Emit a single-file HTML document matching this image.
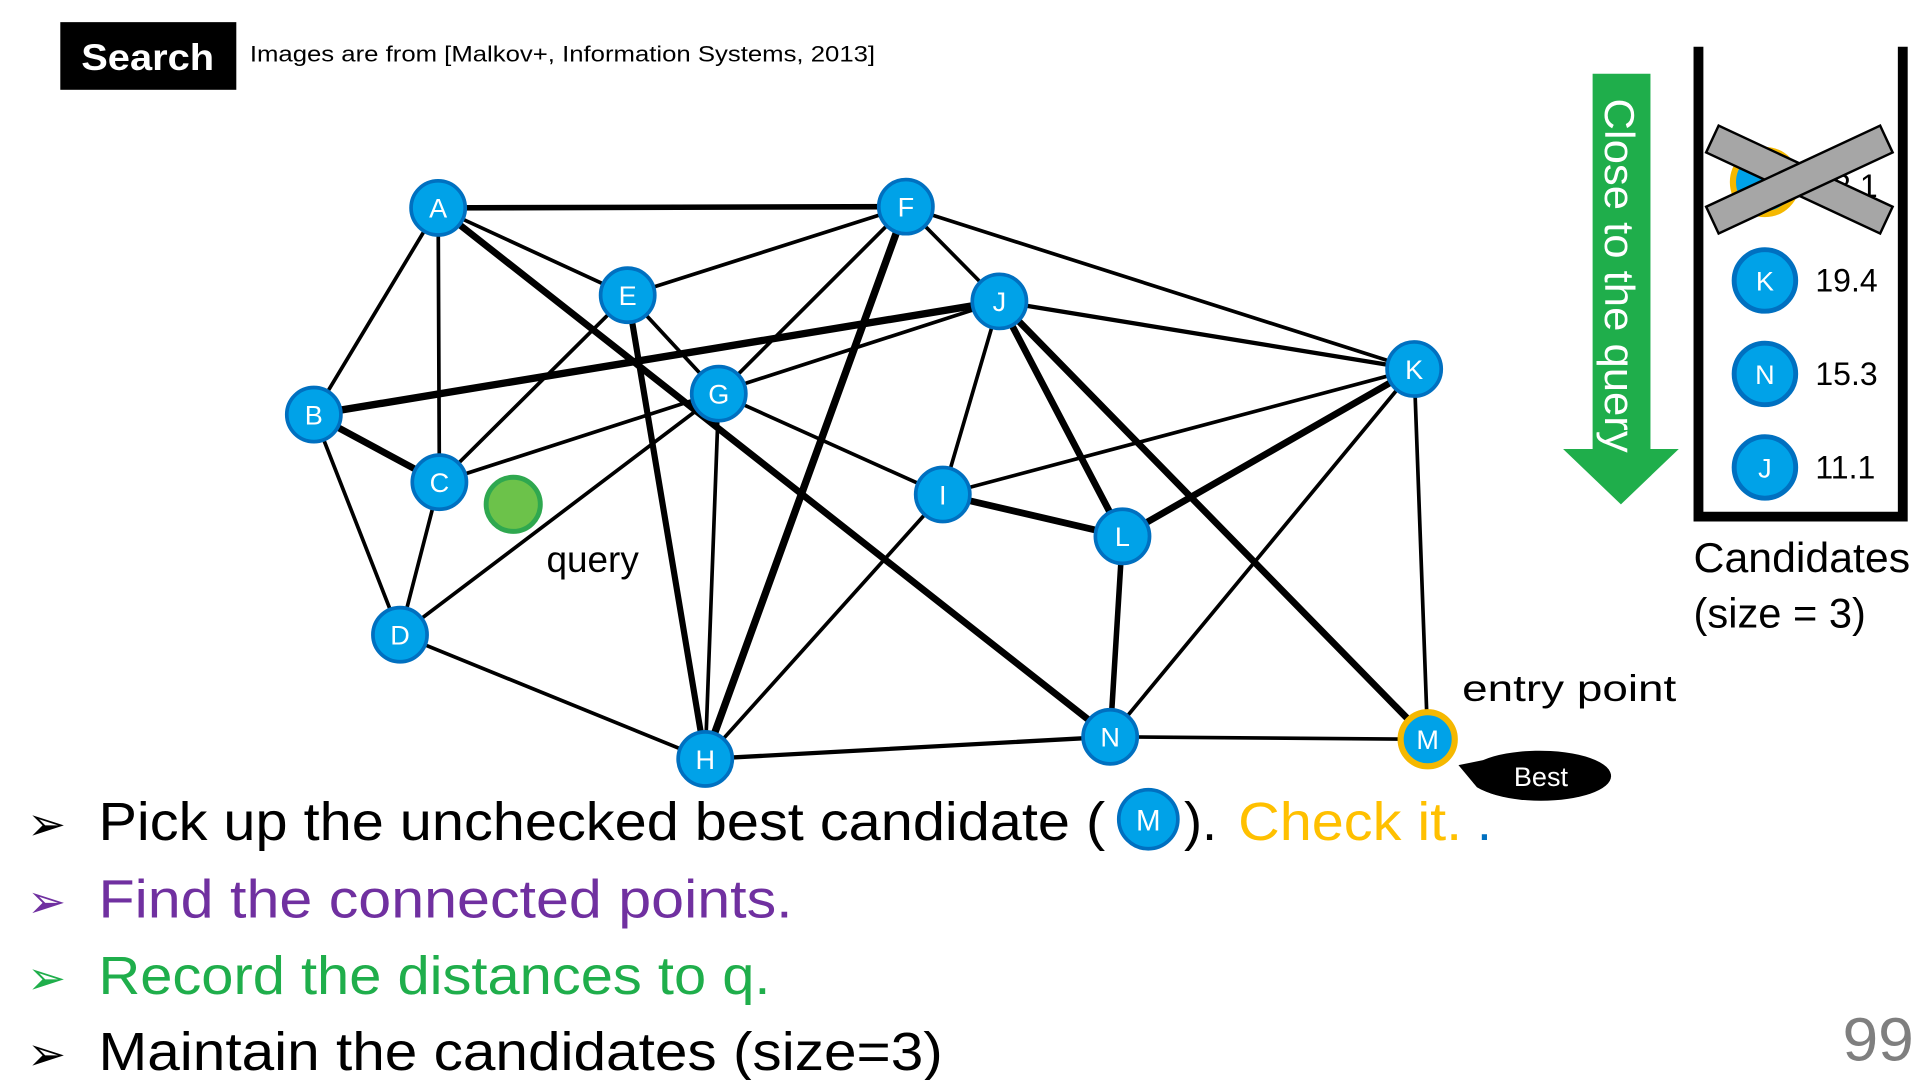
<!DOCTYPE html>
<html><head><meta charset="utf-8"><style>
html,body{margin:0;padding:0;background:#fff;}
svg{display:block;}
text{font-family:"Liberation Sans",sans-serif;}
</style></head><body>
<svg width="1920" height="1080" viewBox="0 0 1560 878" preserveAspectRatio="none" xmlns="http://www.w3.org/2000/svg">
<rect x="49" y="18" width="143" height="55" fill="#000"/>
<text x="120" y="57" font-size="30" font-weight="bold" fill="#fff" text-anchor="middle" textLength="108" lengthAdjust="spacingAndGlyphs">Search</text>
<text x="203" y="50" font-size="18" fill="#000" textLength="508" lengthAdjust="spacingAndGlyphs">Images are from [Malkov+, Information Systems, 2013]</text>
<g stroke="#000" stroke-width="3" stroke-linecap="round">
<line x1="356" y1="169" x2="736" y2="168" stroke-width="4.5"/>
<line x1="356" y1="169" x2="255" y2="337"/>
<line x1="356" y1="169" x2="357" y2="392"/>
<line x1="356" y1="169" x2="510" y2="240"/>
<line x1="356" y1="169" x2="902" y2="599" stroke-width="5.5"/>
<line x1="736" y1="168" x2="510" y2="240"/>
<line x1="736" y1="168" x2="584" y2="320"/>
<line x1="736" y1="168" x2="573" y2="617" stroke-width="6"/>
<line x1="736" y1="168" x2="812" y2="245"/>
<line x1="736" y1="168" x2="1149" y2="300"/>
<line x1="510" y1="240" x2="357" y2="392"/>
<line x1="510" y1="240" x2="584" y2="320"/>
<line x1="510" y1="240" x2="573" y2="617" stroke-width="5"/>
<line x1="812" y1="245" x2="255" y2="337" stroke-width="6"/>
<line x1="812" y1="245" x2="357" y2="392"/>
<line x1="812" y1="245" x2="766" y2="402"/>
<line x1="812" y1="245" x2="912" y2="436" stroke-width="5.5"/>
<line x1="812" y1="245" x2="1160" y2="601" stroke-width="5.5"/>
<line x1="812" y1="245" x2="1149" y2="300" stroke-width="3.5"/>
<line x1="584" y1="320" x2="325" y2="516"/>
<line x1="584" y1="320" x2="573" y2="617"/>
<line x1="584" y1="320" x2="766" y2="402"/>
<line x1="1149" y1="300" x2="766" y2="402"/>
<line x1="1149" y1="300" x2="912" y2="436" stroke-width="5.5"/>
<line x1="1149" y1="300" x2="902" y2="599"/>
<line x1="1149" y1="300" x2="1160" y2="601"/>
<line x1="255" y1="337" x2="357" y2="392" stroke-width="5.5"/>
<line x1="255" y1="337" x2="325" y2="516"/>
<line x1="357" y1="392" x2="325" y2="516"/>
<line x1="325" y1="516" x2="573" y2="617"/>
<line x1="573" y1="617" x2="766" y2="402"/>
<line x1="573" y1="617" x2="902" y2="599" stroke-width="3.5"/>
<line x1="766" y1="402" x2="912" y2="436" stroke-width="5.5"/>
<line x1="912" y1="436" x2="902" y2="599" stroke-width="4.5"/>
<line x1="902" y1="599" x2="1160" y2="601"/>
</g>
<g font-size="22" fill="#fff" text-anchor="middle">
<g stroke="#0070c0" stroke-width="3" fill="#00a2e8">
<circle cx="356" cy="169" r="22"/><circle cx="736" cy="168" r="22"/><circle cx="510" cy="240" r="22"/>
<circle cx="812" cy="245" r="22"/><circle cx="584" cy="320" r="22"/><circle cx="1149" cy="300" r="22"/>
<circle cx="255" cy="337" r="22"/><circle cx="357" cy="392" r="22"/><circle cx="766" cy="402" r="22"/>
<circle cx="912" cy="436" r="22"/><circle cx="325" cy="516" r="22"/><circle cx="573" cy="617" r="22"/>
<circle cx="902" cy="599" r="22"/>
</g>
<circle cx="1160" cy="601" r="22" fill="#00a2e8" stroke="#f5b800" stroke-width="5"/>
<circle cx="417" cy="410" r="22" fill="#6cc24a" stroke="#2fa84f" stroke-width="4"/>
<text x="356" y="177">A</text><text x="736" y="176">F</text><text x="510" y="248">E</text>
<text x="812" y="253">J</text><text x="584" y="328">G</text><text x="1149" y="308">K</text>
<text x="255" y="345">B</text><text x="357" y="400">C</text><text x="766" y="410">I</text>
<text x="912" y="444">L</text><text x="325" y="524">D</text><text x="573" y="625">H</text>
<text x="902" y="607">N</text><text x="1160" y="609">M</text>
</g>
<text x="444" y="465" font-size="30" fill="#000">query</text>
<text x="1188" y="570" font-size="30" fill="#000" textLength="174" lengthAdjust="spacingAndGlyphs">entry point</text>
<path d="M1185 622 L1205 618 A58 20 0 1 1 1200 640 Z" fill="#000"/>
<ellipse cx="1252" cy="631" rx="57" ry="20" fill="#000"/>
<text x="1252" y="639" font-size="22" fill="#fff" text-anchor="middle">Best</text>
<!-- green arrow -->
<path d="M1294 60 H1341 V365 H1364 L1317 410 L1270 365 H1294 Z" fill="#1fae4b"/>
<text transform="translate(1304,80) rotate(90)" font-size="34" fill="#fff" textLength="288" lengthAdjust="spacingAndGlyphs">Close to the query</text>
<!-- container -->
<path d="M1380 38 V420 H1546 V38" fill="none" stroke="#000" stroke-width="8"/>
<circle cx="1434" cy="148" r="26" fill="#00a2e8" stroke="#f5b800" stroke-width="5"/>
<text x="1475" y="160" font-size="26" fill="#000">13.1</text>
<g transform="translate(1462,146)">
<rect x="-78" y="-12" width="156" height="24" fill="#a6a6a6" stroke="#000" stroke-width="2" transform="rotate(25)"/>
<rect x="-78" y="-12" width="156" height="24" fill="#a6a6a6" stroke="#000" stroke-width="2" transform="rotate(-25)"/>
</g>
<g fill="#00a2e8" stroke="#0070c0" stroke-width="4">
<circle cx="1434" cy="228" r="25"/><circle cx="1434" cy="304" r="25"/><circle cx="1434" cy="380" r="25"/>
</g>
<g font-size="22" fill="#fff" text-anchor="middle">
<text x="1434" y="236">K</text><text x="1434" y="312">N</text><text x="1434" y="388">J</text>
</g>
<g font-size="26" fill="#000">
<text x="1475" y="237">19.4</text><text x="1475" y="313">15.3</text><text x="1475" y="389">11.1</text>
</g>
<text x="1376" y="465" font-size="34" fill="#000" textLength="176" lengthAdjust="spacingAndGlyphs">Candidates</text>
<text x="1376" y="510" font-size="34" fill="#000" textLength="140" lengthAdjust="spacingAndGlyphs">(size = 3)</text>
<!-- bullets -->
<g font-size="44">
<text x="22" y="683" fill="#000" font-size="38">➢</text>
<text x="80" y="683" fill="#000" textLength="818" lengthAdjust="spacingAndGlyphs">Pick up the unchecked best candidate (</text>
<circle cx="933" cy="666" r="24" fill="#00a2e8" stroke="#0070c0" stroke-width="3"/>
<text x="933" y="675" font-size="24" fill="#fff" text-anchor="middle">M</text>
<text x="962" y="683" fill="#000">).</text>
<text x="1006" y="683" fill="#ffc000" textLength="182" lengthAdjust="spacingAndGlyphs">Check it. </text>
<text x="1200" y="683" fill="#0070c0">.</text>
<text x="22" y="746" fill="#7030a0" font-size="38">➢</text>
<text x="80" y="746" fill="#7030a0" textLength="564" lengthAdjust="spacingAndGlyphs">Find the connected points.</text>
<text x="22" y="808" fill="#1fae4b" font-size="38">➢</text>
<text x="80" y="808" fill="#1fae4b" textLength="546" lengthAdjust="spacingAndGlyphs">Record the distances to q.</text>
<text x="22" y="870" fill="#000" font-size="38">➢</text>
<text x="80" y="870" fill="#000" textLength="686" lengthAdjust="spacingAndGlyphs">Maintain the candidates (size=3)</text>
</g>
<text x="1497" y="862" font-size="50" fill="#7f7f7f" textLength="58" lengthAdjust="spacingAndGlyphs">99</text>
</svg>
</body></html>
